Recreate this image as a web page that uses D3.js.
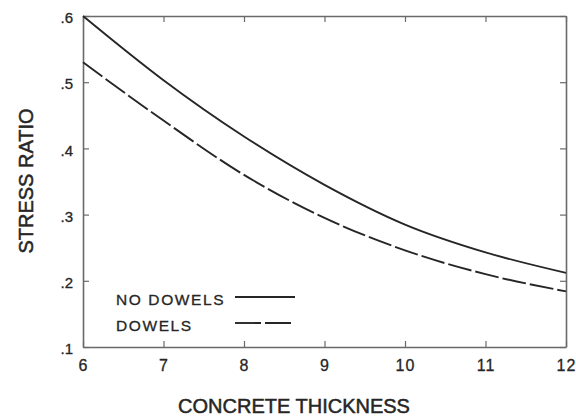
<!DOCTYPE html>
<html><head><meta charset="utf-8">
<script src="https://cdn.jsdelivr.net/npm/d3@7"></script>
<style>
html,body{margin:0;padding:0;background:#fff;}
svg{display:block;font-family:"Liberation Sans",Arial,Helvetica,sans-serif;}
</style></head>
<body><svg id="c" width="576" height="418"></svg>
<script>
const thickness = [6, 7, 8, 9, 10, 11, 12];
const noDowels = [0.600, 0.503, 0.418, 0.345, 0.285, 0.243, 0.212];
const dowels   = [0.530, 0.442, 0.360, 0.295, 0.246, 0.210, 0.184];
const xTicks = [6, 7, 8, 9, 10, 11, 12];
const yTicks = [0.1, 0.2, 0.3, 0.4, 0.5, 0.6];
const yTickLabels = [".1", ".2", ".3", ".4", ".5", ".6"];
const seriesNames = ["NO DOWELS", "DOWELS"];

const svg = d3.select("#c");
const L = 83, R = 566, T = 16, B = 347;
const x = d3.scaleLinear().domain([6, 12]).range([L, R]);
const y = d3.scaleLinear().domain([0.1, 0.6]).range([B, T]);

const frame = "#6a6a6a", ink = "#262626";
const fam = "'Liberation Sans',Arial,sans-serif";

const gB = svg.append("g").attr("transform", `translate(0,${B})`)
  .call(d3.axisBottom(x).tickValues(xTicks).tickSize(-6).tickSizeOuter(0).tickPadding(13).tickFormat(d3.format("d")));
const gT = svg.append("g").attr("transform", `translate(0,${T})`)
  .call(d3.axisTop(x).tickValues(xTicks).tickSize(-6).tickSizeOuter(0).tickFormat(""));
const gL = svg.append("g").attr("transform", `translate(${L},0)`)
  .call(d3.axisLeft(y).tickValues(yTicks).tickSize(-6).tickSizeOuter(0).tickPadding(10)
    .tickFormat((d, i) => yTickLabels[i]));
const gR = svg.append("g").attr("transform", `translate(${R},0)`)
  .call(d3.axisRight(y).tickValues(yTicks).tickSize(-6).tickSizeOuter(0).tickFormat(""));
[gB, gT, gL, gR].forEach(g => {
  g.attr("font-family", fam).attr("font-size", 16);
  g.select(".domain").attr("stroke", frame).attr("stroke-width", 1.6);
  g.selectAll(".tick line").attr("stroke", frame).attr("stroke-width", 1.2);
  g.selectAll(".tick text").attr("fill", ink).attr("stroke", ink).attr("stroke-width", 0.3);
});
gB.selectAll(".tick text").style("letter-spacing", "1px");
gL.attr("font-size", 15);
gL.selectAll(".tick text").attr("dy", "0.45em");

const line = d3.line().x((d, i) => x(thickness[i])).y(d => y(d)).curve(d3.curveMonotoneX);
svg.append("path").datum(noDowels).attr("d", line)
  .attr("fill", "none").attr("stroke", ink).attr("stroke-width", 1.9);
svg.append("path").datum(dowels).attr("d", line)
  .attr("fill", "none").attr("stroke", ink).attr("stroke-width", 1.9)
  .attr("stroke-dasharray", "24,4");

const leg = svg.append("g");
const legRows = [{name: seriesNames[0], dash: null, ty: 305, ly: 297},
                 {name: seriesNames[1], dash: "26,4", ty: 331, ly: 323}];
legRows.forEach(r => {
  leg.append("text").attr("x", 116).attr("y", r.ty).text(r.name)
    .style("font-size", "15.5px").style("letter-spacing", "1.6px")
    .attr("fill", ink).attr("stroke", ink).attr("stroke-width", 0.3);
  const l = leg.append("line").attr("x1", 235).attr("x2", 295).attr("y1", r.ly).attr("y2", r.ly)
    .attr("stroke", ink).attr("stroke-width", 1.9);
  if (r.dash) l.attr("stroke-dasharray", r.dash);
});

svg.append("text").attr("x", 294).attr("y", 413).attr("text-anchor", "middle")
  .style("font-size", "20px").attr("fill", ink).attr("stroke", ink).attr("stroke-width", 0.5)
  .text("CONCRETE THICKNESS");
svg.append("text").attr("transform", "translate(33,181) rotate(-90)").attr("text-anchor", "middle")
  .style("font-size", "20px").attr("fill", ink).attr("stroke", ink).attr("stroke-width", 0.5)
  .text("STRESS RATIO");
</script></body></html>
